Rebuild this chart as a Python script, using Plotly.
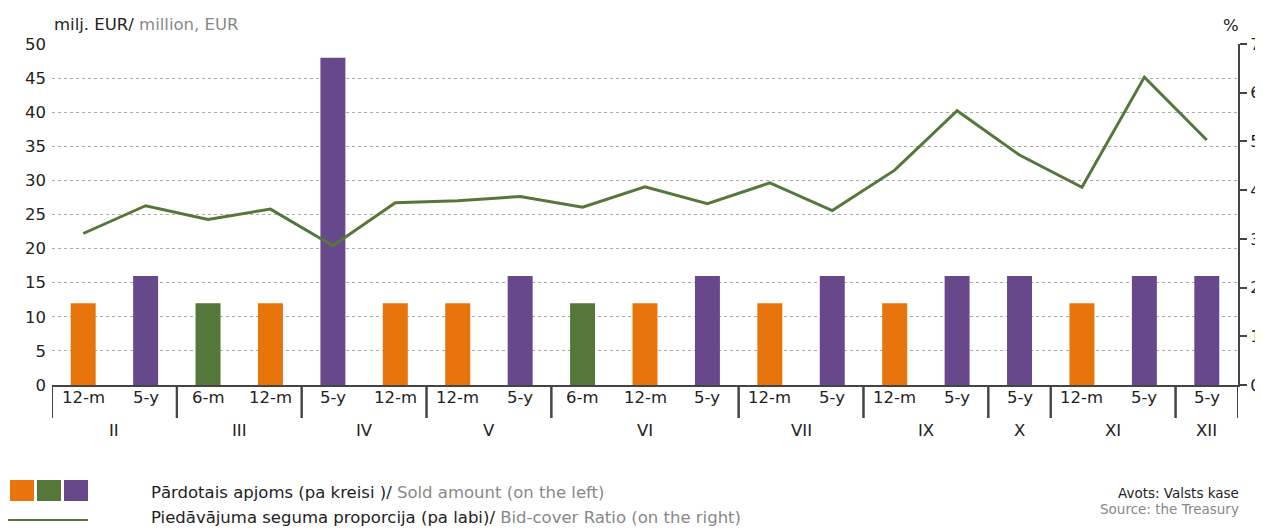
import plotly.graph_objects as go

months = ["II", "II", "III", "III", "IV", "IV", "V", "V", "VI", "VI", "VI",
          "VII", "VII", "IX", "IX", "X", "XI", "XI", "XII"]
tenors = ["12-m", "5-y", "6-m", "12-m", "5-y", "12-m", "12-m", "5-y", "6-m", "12-m", "5-y",
          "12-m", "5-y", "12-m", "5-y", "5-y", "12-m", "5-y", "5-y"]
sold_amount = [12, 16, 12, 12, 48, 12, 12, 16, 12, 12, 16, 12, 16, 12, 16, 16, 12, 16, 16]
bid_cover = [3.11, 3.68, 3.40, 3.61, 2.86, 3.74, 3.78, 3.87, 3.65, 4.07, 3.72,
             4.15, 3.58, 4.41, 5.63, 4.72, 4.06, 6.32, 5.03]

tenor_colors = {"12-m": "#E8740C", "6-m": "#56773A", "5-y": "#67498B"}
line_color = "#56773A"
FONT = "DejaVu Sans"
FS = 16.5

pos = list(range(len(tenors)))

fig = go.Figure()
fig.add_trace(go.Bar(
    x=pos, y=sold_amount,
    marker=dict(color=[tenor_colors[t] for t in tenors], line=dict(width=0)),
    width=0.4, showlegend=False,
))
fig.add_trace(go.Scatter(
    x=pos, y=bid_cover, yaxis="y2", mode="lines",
    line=dict(color=line_color, width=3), showlegend=False,
))

# plot area in screen pixels (page has 8px body margin)
PL, PR, PT, PB = 52, 1238, 44, 385
PW, PH = PR - PL, PB - PT


def px_x(x):
    return (x - PL) / PW


def px_y(y):
    return (PB - y) / PH


fig.update_layout(
    width=1255, height=522,
    margin=dict(l=PL - 8, r=1263 - PR, t=PT - 8, b=530 - PB),
    plot_bgcolor="white", paper_bgcolor="white",
    font=dict(family=FONT, size=FS, color="#222"),
    xaxis=dict(
        range=[-0.5, len(pos) - 0.5], showticklabels=False,
        showline=True, linecolor="#444", linewidth=2, ticks="", showgrid=False,
        zeroline=False, automargin=False,
    ),
    yaxis=dict(
        range=[0, 50], dtick=5, showgrid=True, gridcolor="#aaa", griddash="dot",
        gridwidth=1, zeroline=False, showline=False, ticks="",
        tickfont=dict(size=FS, color="#222"), automargin=False, ticklabelstandoff=5,
    ),
    yaxis2=dict(
        range=[0, 7], dtick=1, overlaying="y", side="right", showgrid=False,
        zeroline=False, showline=True, linecolor="#444", linewidth=2,
        ticks="outside", ticklen=7, tickcolor="#444", tickwidth=2,
        tickfont=dict(size=FS, color="#222"), automargin=False,
    ),
)

# tenor labels
for p, t in zip(pos, tenors):
    fig.add_annotation(xref="x", yref="paper", x=p, y=px_y(397), yanchor="middle",
                       showarrow=False, text=t, font=dict(size=FS, color="#222"))

# month group labels and dividers, derived from the months list
groups = []
for i, m in enumerate(months):
    if not groups or groups[-1][0] != m:
        groups.append([m, i, i])
    else:
        groups[-1][2] = i
for m, i0, i1 in groups:
    fig.add_annotation(xref="x", yref="paper", x=(i0 + i1) / 2, y=px_y(431),
                       yanchor="middle", showarrow=False, text=m,
                       font=dict(size=FS, color="#222"))
    for b in (i0 - 0.5, i1 + 0.5):
        fig.add_shape(type="line", xref="x", yref="paper", x0=b, x1=b,
                      y0=0, y1=px_y(418), line=dict(color="#444", width=2))

# axis titles
fig.add_annotation(xref="paper", yref="paper", x=0, y=px_y(24), xanchor="left",
                   yanchor="middle", showarrow=False,
                   text="milj. EUR/ <span style='color:#888'>million, EUR</span>",
                   font=dict(size=FS, color="#222"))
fig.add_annotation(xref="paper", yref="paper", x=px_x(1231), y=px_y(25), xanchor="center",
                   yanchor="middle", showarrow=False, text="%",
                   font=dict(size=FS, color="#222"))

# legend (drawn manually)
for i, t in enumerate(["12-m", "6-m", "5-y"]):
    x0 = 10 + i * 27
    fig.add_shape(type="rect", xref="paper", yref="paper",
                  x0=px_x(x0), x1=px_x(x0 + 24), y0=px_y(501), y1=px_y(480),
                  fillcolor=tenor_colors[t], line=dict(width=0))
fig.add_shape(type="line", xref="paper", yref="paper",
              x0=px_x(8), x1=px_x(88), y0=px_y(520), y1=px_y(520),
              line=dict(color=line_color, width=2))
fig.add_annotation(xref="paper", yref="paper", x=px_x(149), y=px_y(492),
                   xanchor="left", yanchor="middle", showarrow=False,
                   text="Pārdotais apjoms (pa kreisi )/ <span style='color:#888'>Sold amount (on the left)</span>",
                   font=dict(size=FS, color="#222"))
fig.add_annotation(xref="paper", yref="paper", x=px_x(149), y=px_y(517),
                   xanchor="left", yanchor="middle", showarrow=False,
                   text="Piedāvājuma seguma proporcija (pa labi)/ <span style='color:#888'>Bid-cover Ratio (on the right)</span>",
                   font=dict(size=FS, color="#222"))
fig.add_annotation(xref="paper", yref="paper", x=1, y=px_y(493), xshift=3,
                   xanchor="right", yanchor="middle", showarrow=False,
                   text="Avots: Valsts kase", font=dict(size=13.5, color="#222"))
fig.add_annotation(xref="paper", yref="paper", x=1, y=px_y(509), xshift=3,
                   xanchor="right", yanchor="middle", showarrow=False,
                   text="Source: the Treasury", font=dict(size=13.5, color="#888"))

fig.write_html("out.html")
